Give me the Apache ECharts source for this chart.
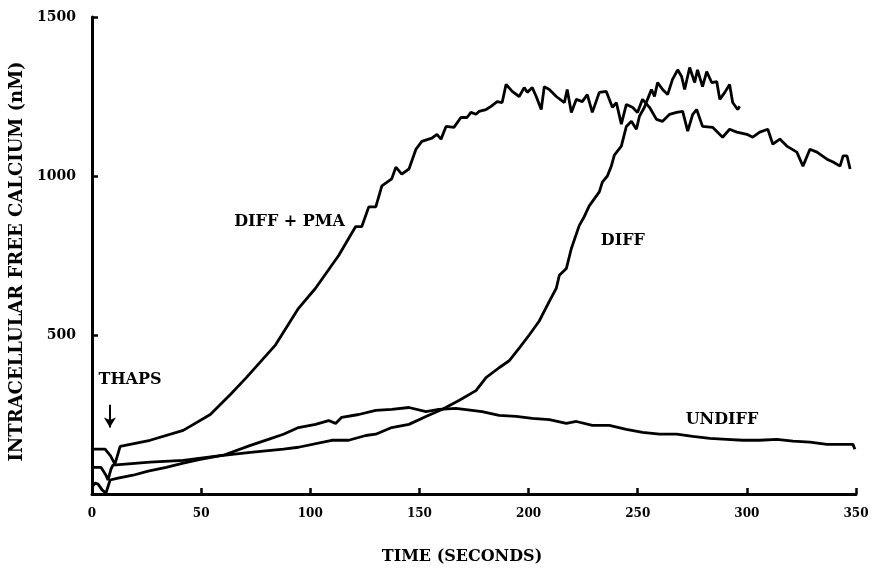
<!DOCTYPE html>
<html>
<head>
<meta charset="utf-8">
<script src="https://cdn.jsdelivr.net/npm/echarts@6/dist/echarts.min.js"></script>
<style>
  html, body { margin: 0; padding: 0; background: #fff; }
  #chart { width: 875px; height: 570px; }
</style>
</head>
<body>
<div id="chart"></div>
<script>
// Intracellular free calcium (nM) over time (s) after thapsigargin addition
const xTicks = [0, 50, 100, 150, 200, 250, 300, 350];
const yTicks = [0, 500, 1000, 1500];

// [time (s), calcium (nM)]
const diffPma = [
  [0,141],[6.0,141],[8.5,120],[10.5,94],[12.9,150],[26.6,169],[41.8,200],[54.2,250],[63.4,313],
  [70.7,366],[84.1,469],[94.6,584],[102.4,647],[113.0,750],[120.8,841],[123.6,841],
  [126.8,903],[130.0,903],[132.8,969],[137.3,991],[139.2,1028],[141.9,1006],[145.2,1022],
  [148.4,1084],[151.1,1109],[155.7,1119],[158.0,1131],[159.9,1116],[162.2,1156],
  [165.8,1153],[169.0,1184],[171.8,1184],[173.6,1200],[175.9,1194],[177.3,1203],
  [180.5,1209],[182.8,1219],[185.6,1234],[187.9,1231],[189.7,1288],[192.5,1266],
  [195.7,1250],[198.0,1278],[199.4,1263],[201.7,1278],[203.5,1250],[205.8,1209],
  [207.2,1281],[209.5,1272],[212.7,1250],[216.4,1231],[217.7,1272],[219.6,1200],
  [221.9,1241],[224.6,1234],[226.9,1256],[229.2,1200],[232.4,1263],[235.6,1266],
  [238.4,1216],[240.2,1231],[242.5,1163],[244.8,1225],[247.6,1216],[249.9,1200],
  [252.2,1241],[255.4,1216],[258.6,1178],[261.4,1172],[264.6,1194],[267.8,1200],
  [270.6,1203],[272.9,1141],[275.2,1194],[277.0,1209],[279.7,1156],[284.3,1153],
  [288.9,1122],[292.1,1147],[295.4,1138],[300.0,1131],[302.7,1122],[305.9,1138],
  [309.6,1147],[311.9,1100],[315.1,1116],[318.3,1094],[322.9,1075],[325.7,1031],
  [328.9,1084],[332.1,1075],[336.7,1053],[339.5,1044],[342.7,1031],[344.1,1063],
  [345.9,1063],[347.3,1022]
];

const diff = [
  [0,84],[4.1,84],[6.4,59],[7.3,44],[8.7,78],[9.6,91],[26.6,100],[41.8,106],[57.0,119],
  [72.6,131],[87.7,141],[94.6,147],[109.8,169],[117.6,169],[125.4,184],[130.0,188],
  [137.3,209],[145.2,219],[153.0,244],[160.3,266],[168.1,294],[175.9,325],[180.5,366],
  [186.5,397],[191.1,419],[195.7,459],[200.3,500],[204.9,544],[209.5,606],[212.7,647],
  [214.1,688],[217.3,709],[219.6,772],[223.2,844],[225.5,872],[227.8,906],[230.1,928],
  [232.4,950],[233.8,981],[236.1,1000],[237.9,1031],[239.3,1066],[242.5,1094],
  [244.8,1156],[247.1,1172],[249.4,1147],[250.8,1188],[253.1,1216],[254.5,1241],
  [256.3,1272],[257.7,1250],[259.1,1294],[261.4,1272],[263.7,1256],[265.9,1303],
  [268.3,1334],[270.1,1313],[271.5,1272],[273.8,1341],[276.1,1294],[277.4,1334],
  [279.7,1281],[281.6,1328],[283.9,1294],[286.2,1297],[287.6,1241],[289.9,1263],
  [292.1,1288],[293.5,1231],[295.8,1209],[296.7,1219]
];

const undiff = [
  [0,22],[1.4,34],[2.8,31],[4.6,13],[6.4,3],[8.3,44],[11.9,50],[18.8,59],[25.7,72],
  [34.0,84],[41.8,97],[49.6,109],[60.2,122],[72.6,153],[80.8,172],[87.7,188],[94.6,209],
  [102.4,219],[108.4,231],[111.6,222],[114.4,241],[122.2,250],[130.0,263],[137.3,266],
  [145.2,272],[153.0,259],[158.9,266],[166.7,269],[174.1,263],[178.7,259],[186.5,247],
  [194.3,244],[201.7,238],[209.5,234],[217.3,222],[221.9,228],[229.2,216],[237.0,216],
  [244.8,203],[252.2,194],[260.0,188],[267.8,188],[275.2,181],[283.0,175],[290.8,172],
  [298.1,169],[305.9,169],[313.7,172],[321.1,166],[328.9,163],[336.7,156],[344.1,156],
  [348.6,156],[349.5,141]
];

// Curve labels placed in data coordinates
const curveLabels = [
  { text: 'DIFF + PMA', at: [90.5, 856] },
  { text: 'DIFF', at: [243.2, 795] },
  { text: 'UNDIFF', at: [288.6, 232] },
  { text: 'THAPS', at: [17.4, 360] }
];
// Thapsigargin addition arrow (time, from / to calcium)
const thapsArrow = { time: 8.2, from: 281, to: 209 };

const FONT = 'DejaVu Serif';
const chart = echarts.init(document.getElementById('chart'));

const lineSeries = (name, data) => ({
  name, type: 'line', data,
  showSymbol: false, symbol: 'none', smooth: false,
  lineStyle: { color: '#000', width: 2.8 },
  z: 3
});

chart.setOption({
  animation: false,
  backgroundColor: '#fff',
  grid: { left: 92, right: 19, top: 17, bottom: 73, containLabel: false },
  xAxis: {
    type: 'value', min: xTicks[0], max: xTicks[xTicks.length - 1], interval: 50,
    name: 'TIME (SECONDS)', nameLocation: 'middle', nameGap: 55,
    nameTextStyle: { fontFamily: FONT, fontWeight: 'bold', fontSize: 16, color: '#000', padding: [0, 24, 0, 0] },
    axisLine: { lineStyle: { color: '#000', width: 3 } },
    axisTick: { inside: true, length: 6, lineStyle: { color: '#000', width: 2.5 } },
    axisLabel: { fontFamily: FONT, fontWeight: 'bold', fontSize: 12, color: '#000', margin: 14 },
    splitLine: { show: false }
  },
  yAxis: {
    type: 'value', min: yTicks[0], max: yTicks[yTicks.length - 1], interval: 500,
    name: 'INTRACELLULAR FREE CALCIUM (nM)', nameLocation: 'middle', nameGap: 58,
    nameRotate: 90,
    nameTextStyle: { fontFamily: FONT, fontWeight: 'bold', fontSize: 18, color: '#000', padding: [0, 12, 0, 0] },
    axisLine: { lineStyle: { color: '#000', width: 3 } },
    axisTick: { inside: true, length: 6, lineStyle: { color: '#000', width: 2.5 } },
    axisLabel: {
      fontFamily: FONT, fontWeight: 'bold', fontSize: 14, color: '#000', margin: 16,
      formatter: v => (v === 0 ? '' : String(v))
    },
    splitLine: { show: false }
  },
  series: [
    Object.assign(lineSeries('DIFF + PMA', diffPma), {
      markPoint: {
        symbol: 'circle', symbolSize: 0, silent: true,
        label: { show: true, position: 'inside', fontFamily: FONT, fontWeight: 'bold', fontSize: 16, color: '#000',
                 formatter: p => p.name },
        data: curveLabels.map(l => ({ name: l.text, coord: l.at }))
      },
      markLine: {
        silent: true, symbol: ['none', 'arrow'], symbolSize: [9, 10],
        lineStyle: { color: '#000', width: 2, type: 'solid' },
        label: { show: false },
        data: [[{ coord: [thapsArrow.time, thapsArrow.from] }, { coord: [thapsArrow.time, thapsArrow.to] }]]
      }
    }),
    lineSeries('DIFF', diff),
    lineSeries('UNDIFF', undiff)
  ]
});
</script>
</body>
</html>
